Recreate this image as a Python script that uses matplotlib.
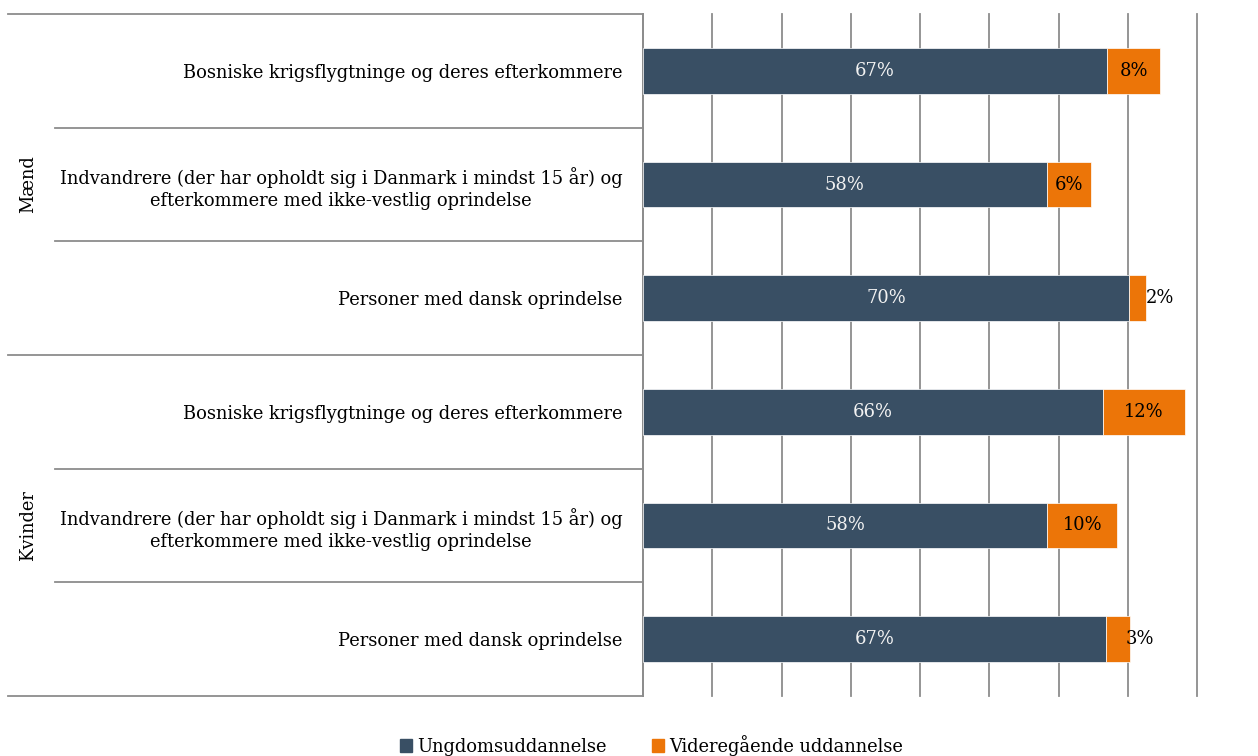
import matplotlib
matplotlib.use('Agg')
import matplotlib.pyplot as plt
from matplotlib.transforms import blended_transform_factory
from matplotlib.patches import Patch

# Rows from top to bottom
categories = [
    "Bosniske krigsflygtninge og deres efterkommere",
    "Indvandrere (der har opholdt sig i Danmark i mindst 15 år) og\nefterkommere med ikke-vestlig oprindelse",
    "Personer med dansk oprindelse",
    "Bosniske krigsflygtninge og deres efterkommere",
    "Indvandrere (der har opholdt sig i Danmark i mindst 15 år) og\nefterkommere med ikke-vestlig oprindelse",
    "Personer med dansk oprindelse",
]
groups = ["Mænd", "Kvinder"]
group_size = 3

# Shares in percent
ungdom = [67.0, 58.3, 70.2, 66.4, 58.4, 66.9]
videregaaende = [7.7, 6.4, 2.4, 11.8, 10.1, 3.4]
series_names = ["Ungdomsuddannelse", "Videregående uddannelse"]

dark = '#394F64'
orange = '#EC7508'
grid_col = '#8C8C8C'
font = 'DejaVu Serif'
fs = 12.85

plt.rcParams['font.family'] = font

fig = plt.figure(figsize=(12.58, 7.56), dpi=100)
ax = fig.add_axes([643 / 1258, 1 - 696 / 756, 554 / 1258, 682 / 756])

y = list(range(len(categories)))
ax.barh(y, ungdom, height=0.4, color=dark, edgecolor='white', linewidth=0.5, zorder=3)
ax.barh(y, videregaaende, left=ungdom, height=0.4, color=orange,
        edgecolor='white', linewidth=0.5, zorder=3)

# data labels
for i in y:
    ax.text(ungdom[i] / 2, i, f"{round(ungdom[i])}%", ha='center', va='center',
            color='#F2F2F2', fontsize=fs, zorder=4)
    xc = ungdom[i] + videregaaende[i] / 2
    if videregaaende[i] < 5:
        xc += 3.2
    ax.text(xc, i, f"{round(videregaaende[i])}%", ha='center', va='center',
            color='black', fontsize=fs, zorder=4)

ax.set_xlim(0, 80)
ax.set_ylim(len(categories) - 0.5, -0.5)
ax.set_xticks(range(0, 81, 10))
ax.tick_params(axis='x', length=0, labelbottom=False)
ax.grid(axis='x', color=grid_col, linewidth=1.3, zorder=0)
for gl in ax.get_xgridlines():
    gl.set_clip_on(False)

ax.set_yticks(y)
ax.set_yticklabels(categories, fontsize=fs)
ax.tick_params(axis='y', length=0, pad=15)
for lbl in ax.get_yticklabels():
    lbl.set_multialignment('center')
    lbl.set_linespacing(1.3)

for s in ['top', 'right', 'bottom']:
    ax.spines[s].set_visible(False)
ax.spines['left'].set_color(grid_col)
ax.spines['left'].set_linewidth(1.3)

# separator lines in the label area
tr = blended_transform_factory(fig.transFigure, ax.transData)
for k in range(len(categories) + 1):
    yy = k - 0.5
    x0 = 8 / 1258 if k % group_size == 0 else 55 / 1258
    ax.plot([x0, 643 / 1258], [yy, yy], transform=tr, color=grid_col,
            linewidth=1.3, clip_on=False)

for g, name in enumerate(groups):
    yc = g * group_size + (group_size - 1) / 2
    ax.text(28 / 1258, yc, name, transform=tr, rotation=90, ha='center',
            va='center', fontsize=fs)

handles = [Patch(color=dark), Patch(color=orange)]
fig.legend(handles, series_names, loc='center', bbox_to_anchor=(0.518, 0.014),
           ncol=2, frameon=False, fontsize=fs, handlelength=0.7, handleheight=0.7,
           handletextpad=0.3, columnspacing=2.5)

fig.savefig('out.png', dpi=100)
